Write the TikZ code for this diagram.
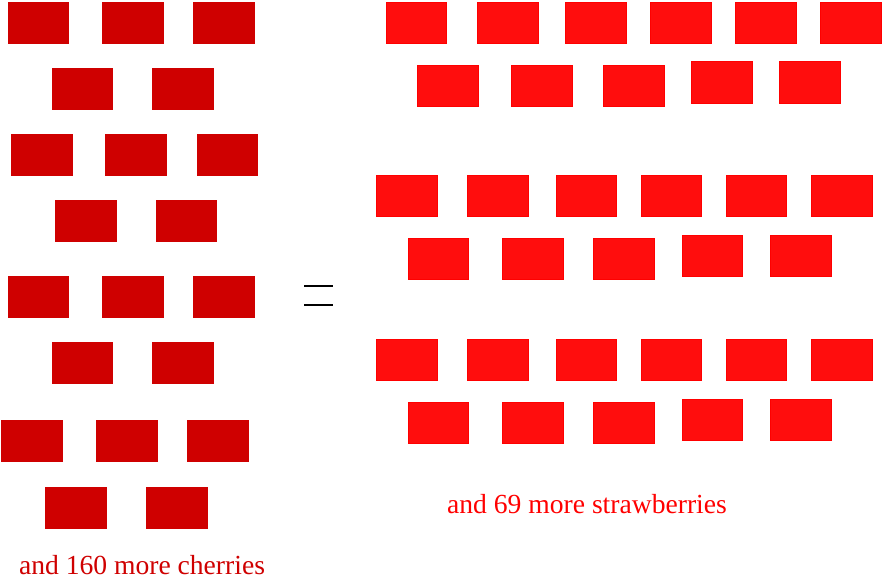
\documentclass[tikz,border=0pt]{standalone}
\usepackage{fontspec}
\setmainfont{Liberation Serif}
\definecolor{cherry}{HTML}{CF0000}
\definecolor{strawfill}{HTML}{FF0D0D}
\definecolor{strawline}{HTML}{FF0000}
\begin{document}
\begin{tikzpicture}[x=1pt,y=-1pt,
  cherrybox/.style={fill=cherry},
  strawbox/.style={fill=strawfill,draw=strawline,line width=1pt},
  label/.style={font=\fontsize{27.6}{30}\selectfont,anchor=base,inner sep=0pt,text depth=0pt}]
\useasboundingbox (0,0) rectangle (883,580);
% cherries
\foreach \xa/\ya/\xb/\yb in {
  8/2/69/44, 102/2/164/44, 193/2/255/44,
  52/68/113/110, 152/68/214/110,
  11/134/73/176, 105/134/167/176, 197/134/258/176,
  55/200/117/242, 156/200/217/242,
  8/276/69/318, 102/276/164/318, 193/276/255/318,
  52/342/113/384, 152/342/214/384,
  1/420/63/462, 96/420/158/462, 187/420/249/462,
  45/487/107/529, 146/487/208/529}
  \fill[cherrybox] (\xa,\ya) rectangle (\xb,\yb);
% strawberries
\foreach \xa/\ya/\xb/\yb in {
  386/2/447/44, 477/2/539/44, 565/2/627/44, 650/2/712/44, 735/2/797/44, 820/2/882/44,
  417/65/479/107, 511/65/573/107, 603/65/665/107, 691/61/753/104, 779/61/841/104}
  \filldraw[strawbox] (\xa+0.5,\ya+0.5) rectangle (\xb-0.5,\yb-0.5);
\foreach \dy in {0,164}{
\foreach \xa/\ya/\xb/\yb in {
  376/175/438/217, 467/175/529/217, 556/175/617/217, 641/175/702/217, 726/175/787/217, 811/175/873/217,
  408/238/469/280, 502/238/564/280, 593/238/655/280, 682/235/743/277, 770/235/832/277}
  \filldraw[strawbox] (\xa+0.5,\ya+\dy+0.5) rectangle (\xb-0.5,\yb+\dy-0.5);
}
% equals sign
\draw[line width=2pt] (304,286) -- (333,286);
\draw[line width=2pt] (304,305) -- (333,305);
% labels
\node[label,text=cherry] (cherries) at (142,574) {and 160 more cherries};
\node[label,text=strawline] (strawberries) at (587,513) {and 69 more strawberries};
\end{tikzpicture}
\end{document}
